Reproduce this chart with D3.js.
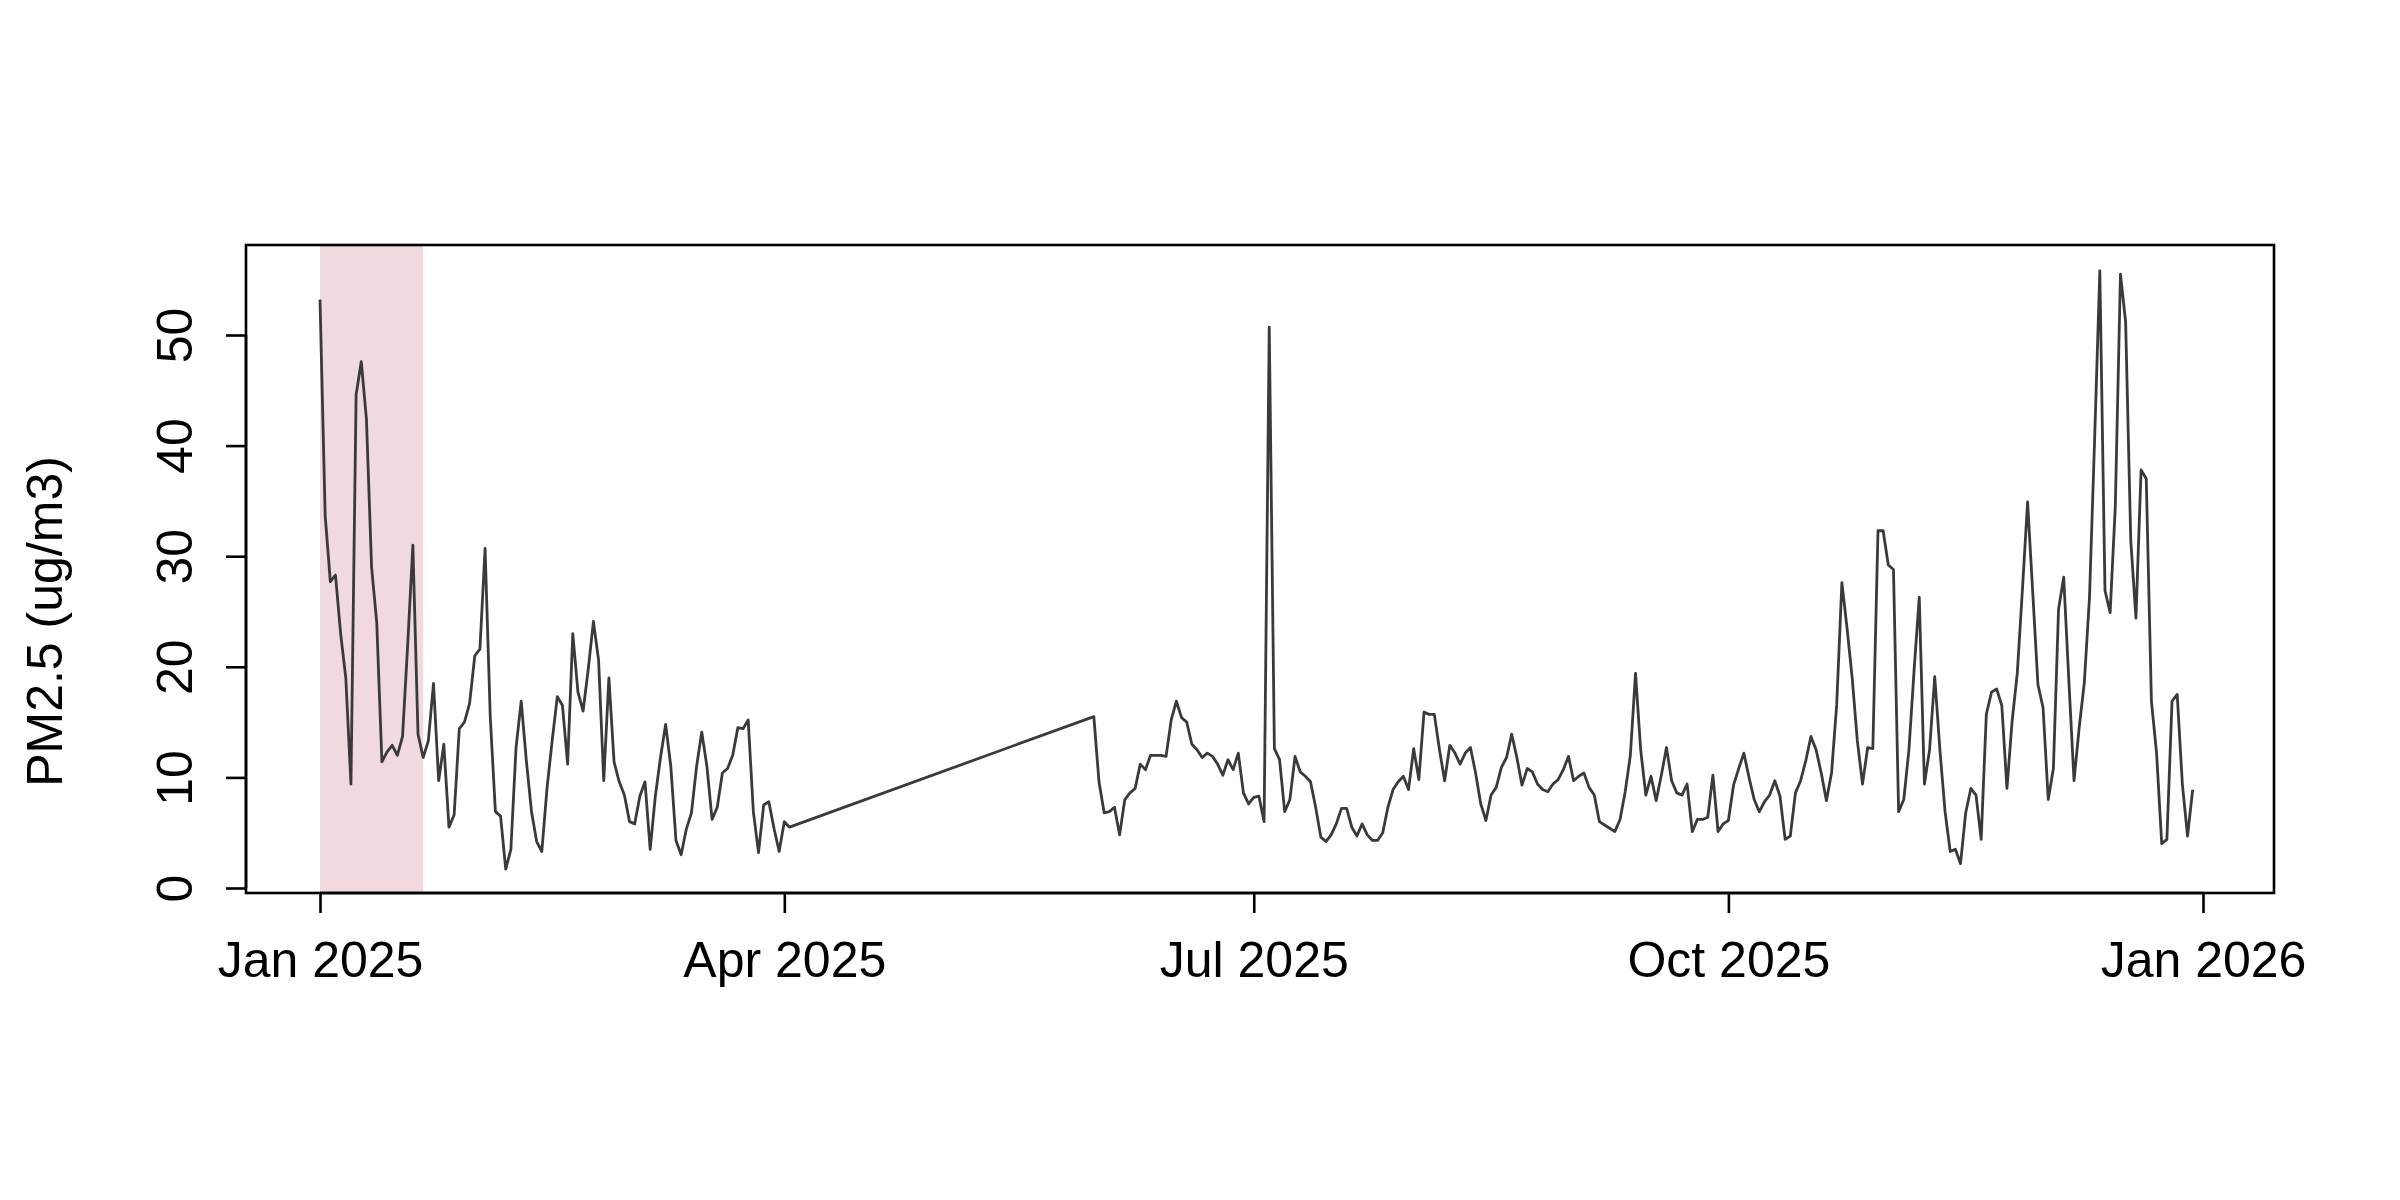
<!DOCTYPE html>
<html><head><meta charset="utf-8">
<script src="https://cdn.jsdelivr.net/npm/d3@7"></script>
<style>body{margin:0;background:#fff}</style></head>
<body><svg id="c" width="2400" height="1200"></svg>
<script>
// Segment A: daily values starting 2025-01-01
const segAStart = "2025-01-01";
const segAValues = [53.2,33.7,27.7,28.3,23,19,9.4,44.6,47.6,42.4,29,24,11.4,12.3,12.9,12,13.7,22,31,13.9,11.8,13.3,18.5,9.7,13,5.5,6.6,14.4,15,16.7,21,21.6,30.7,15.5,6.9,6.5,1.7,3.5,12.7,16.9,11.5,6.9,4.2,3.3,9,13.3,17.3,16.5,11.2,23,17.7,16,19.8,24.1,20.6,9.7,19,11.4,9.6,8.4,6,5.8,8.3,9.6,3.5,8.3,11.8,14.8,11,4.3,3,5.3,6.8,11,14.1,11,6.2,7.3,10.4,10.8,12,14.5,14.4,15.2,6.9,3.2,7.5,7.8,5.4,3.3,6,5.5];
// Segment B: daily values starting 2025-05-31
const segBStart = "2025-05-31";
const segBValues = [15.5,9.6,6.8,6.9,7.3,4.8,8,8.6,9,11.2,10.7,12,12,12,11.9,15.2,16.9,15.4,15,13,12.5,11.8,12.2,11.9,11.2,10.2,11.6,10.7,12.2,8.6,7.6,8.2,8.3,6,50.7,12.6,11.6,6.9,8,11.9,10.5,10.1,9.6,7.3,4.6,4.2,4.8,5.8,7.2,7.2,5.5,4.7,5.8,4.8,4.3,4.3,5,7.3,8.9,9.6,10.1,8.9,12.6,9.8,15.9,15.7,15.7,12.5,9.7,12.9,12.2,11.2,12.2,12.7,10.4,7.6,6.1,8.4,9.1,10.9,11.8,13.9,11.8,9.3,10.8,10.5,9.4,8.9,8.7,9.4,9.8,10.7,11.9,9.7,10.1,10.4,9.1,8.4,6,5.7,5.4,5.1,6.2,8.7,12,19.4,12.5,8.4,10.1,7.9,10.2,12.7,9.7,8.6,8.4,9.4,5.1,6.2,6.2,6.4,10.2,5.1,5.8,6.1,9.3,10.8,12.2,10,8,6.9,7.8,8.4,9.7,8.3,4.4,4.7,8.6,9.7,11.5,13.7,12.5,10.4,7.9,10.4,16.6,27.6,23.5,19,13.3,9.4,12.7,12.6,32.3,32.3,29.2,28.8,6.9,8,12.5,19.7,26.3,9.4,12.5,19.1,12.5,6.9,3.3,3.5,2.2,6.8,9,8.4,4.4,15.7,17.7,18,16.5,9,15.1,19.4,27,34.9,26.7,18.4,16.3,8,10.8,25.2,28.1,18.7,9.7,14.5,18.6,26.3,40.7,55.8,26.9,24.9,34.5,55.5,51.2,31.4,24.4,37.8,37,16.9,12.2,4,4.4,16.9,17.5,9.4,4.7,8.9];
const xTickDates = ["2025-01-01","2025-04-01","2025-07-01","2025-10-01","2026-01-01"];
const xTickLabels = ["Jan 2025","Apr 2025","Jul 2025","Oct 2025","Jan 2026"];
const yTicks = [0,10,20,30,40,50];
const shadeRange = ["2025-01-01","2025-01-21"];
const yLabel = "PM2.5 (ug/m3)";

const parse = d3.utcParse("%Y-%m-%d");
function build(start, vals){ const s=parse(start); return vals.map((v,i)=>({d:d3.utcDay.offset(s,i),v})); }
const data = build(segAStart,segAValues).concat(build(segBStart,segBValues));

const svg = d3.select("#c");
const L=246,R=2274,T=245,B=893;
const x = d3.scaleUtc().domain([parse("2025-01-01"),parse("2026-01-01")]).range([320,2203]);
const y = d3.scaleLinear().domain([0,50]).range([888,335]);
const font="Liberation Sans, Arial, Helvetica, sans-serif";

svg.append("rect").attr("x",x(parse(shadeRange[0]))).attr("y",T)
  .attr("width",x(parse(shadeRange[1]))-x(parse(shadeRange[0]))).attr("height",B-T).attr("fill","#f0dadd");

svg.append("path").datum(data).attr("fill","none").attr("stroke","#3a3a3a").attr("stroke-width",2.8)
  .attr("stroke-linejoin","round")
  .attr("d",d3.line().x(d=>x(d.d)).y(d=>y(d.v)));

svg.append("rect").attr("x",L).attr("y",T).attr("width",R-L).attr("height",B-T)
  .attr("fill","none").attr("stroke","#000").attr("stroke-width",2.6);

const xa = svg.append("g").attr("transform",`translate(0,${B})`)
  .call(d3.axisBottom(x).tickValues(xTickDates.map(parse)).tickFormat((d,i)=>xTickLabels[i]).tickSize(20).tickPadding(28).tickSizeOuter(0));
xa.select(".domain").attr("d",`M${x(parse(xTickDates[0]))},0H${x(parse(xTickDates[4]))}`).attr("stroke-width",2.6);
xa.selectAll("line").attr("stroke-width",2.6);
xa.selectAll("text").attr("font-family",font).attr("font-size",50).attr("fill","#000");

const ya = svg.append("g").attr("transform",`translate(${L},0)`)
  .call(d3.axisLeft(y).tickValues(yTicks).tickSize(20).tickFormat("").tickSizeOuter(0));
ya.select(".domain").attr("d",`M0,${y(0)}V${y(50)}`).attr("stroke-width",2.6);
ya.selectAll("line").attr("stroke-width",2.6);
ya.selectAll(".tick").append("text").text(d=>d)
  .attr("transform","translate(-72,0) rotate(-90)")
  .attr("text-anchor","middle").attr("dy","0.35em")
  .attr("font-family",font).attr("font-size",50).attr("fill","#000");

svg.append("text").attr("transform",`translate(44,${(335+888)/2+10}) rotate(-90)`)
  .attr("text-anchor","middle").attr("dy","0.35em").attr("font-family",font).attr("font-size",50).text(yLabel);
</script></body></html>
